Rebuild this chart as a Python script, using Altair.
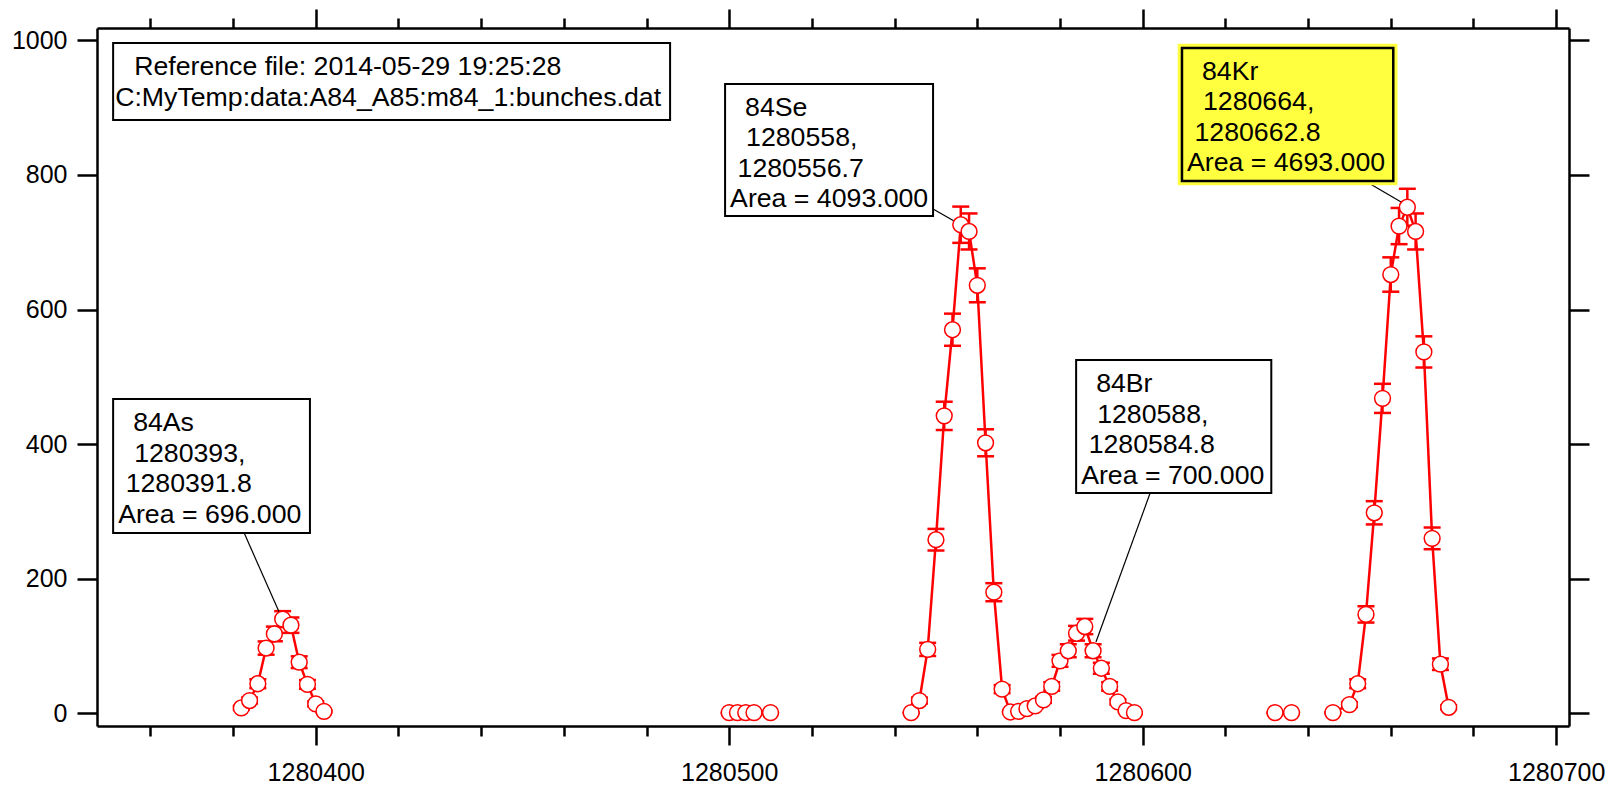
import altair as alt
import numpy as np
import pandas as pd

FONT = "Liberation Sans"
RED = "#ff0000"
YELLOW = "#ffff40"

# ---- counts per bunch; each run is joined by its own line ----
as_x = [1280382, 1280384, 1280386, 1280388, 1280390, 1280392,
        1280394, 1280396, 1280398, 1280400, 1280402]
as_y = [8, 19, 44, 97, 118, 140, 131, 76, 43, 14, 3]

bg1_x = [1280500, 1280502, 1280504, 1280506, 1280510]
bg1_y = [1, 1, 1, 1, 1]

sebr_x = [1280544, 1280546, 1280548, 1280550, 1280552, 1280554, 1280556,
          1280558, 1280560, 1280562, 1280564, 1280566, 1280568, 1280570,
          1280572, 1280574, 1280576, 1280578, 1280580, 1280582, 1280584,
          1280586, 1280588, 1280590, 1280592, 1280594, 1280596, 1280598]
sebr_y = [1, 19, 95, 258, 442, 570, 726,
          716, 636, 402, 180, 36, 2, 3,
          7, 11, 20, 40, 78, 93, 119,
          129, 93, 67, 40, 17, 4, 1]

bg2_x = [1280632, 1280636]
bg2_y = [1, 1]

kr_x = [1280646, 1280650, 1280652, 1280654, 1280656, 1280658, 1280660,
        1280662, 1280664, 1280666, 1280668, 1280670, 1280672, 1280674]
kr_y = [1, 13, 44, 147, 298, 468, 652, 724, 752, 716, 537, 260, 73, 9]

runs = [("As", as_x, as_y), ("bg1", bg1_x, bg1_y), ("SeBr", sebr_x, sebr_y),
        ("bg2", bg2_x, bg2_y), ("Kr", kr_x, kr_y)]
pts = pd.concat(
    [pd.DataFrame({"x": xs_, "y": ys_, "run": name}) for name, xs_, ys_ in runs],
    ignore_index=True,
)
err = np.sqrt(pts["y"].astype(float))  # Poisson error on counts
pts["lo"] = pts["y"] - err
pts["hi"] = pts["y"] + err

# ---- plot geometry ----
W, H = 1472, 698
X_DOM = [1280347.1, 1280703.1]
Y_DOM = [-18.8, 1018.3]
PX_X = W / (X_DOM[1] - X_DOM[0])   # pixels per mass unit
PX_Y = H / (Y_DOM[1] - Y_DOM[0])   # pixels per count

# ---- annotation boxes (anchored in data units) ----
note_lines = [
    ["Reference file: 2014-05-29 19:25:28", "C:MyTemp:data:A84_A85:m84_1:bunches.dat"],
    ["84Se", "1280558,", "1280556.7", "Area = 4093.000"],
    ["84Kr", "1280664,", "1280662.8", "Area = 4693.000"],
    ["84Br", "1280588,", "1280584.8", "Area = 700.000"],
    ["84As", "1280393,", "1280391.8", "Area = 696.000"],
]
note_x0 = [1280351.0, 1280499.0, 1280609.5, 1280583.9, 1280351.0]
note_x1 = [1280485.7, 1280549.3, 1280660.6, 1280631.1, 1280398.6]
note_top = [996.0, 935.1, 988.6, 525.0, 467.0]
note_bottom = [881.6, 738.9, 790.9, 327.3, 267.9]
note_highlight = [False, False, True, False, False]

# text layout inside the boxes (pixels)
FONT_SIZE = 26.7
LINE_H = 30.5
FIRST_BASE = 32
PAD = [2, 5, 5, 5, 5]
INDENT = {2: [19, 0], 4: [15, 16, 7.5, 0]}

notes = pd.DataFrame({
    "x0": note_x0, "x1": note_x1, "ytop": note_top, "ybot": note_bottom,
    "highlight": note_highlight,
})

rows = []
for b, lines in enumerate(note_lines):
    ind = INDENT[len(lines)]
    for i, s in enumerate(lines):
        rows.append({
            "text": s,
            "tx": note_x0[b] + (PAD[b] + ind[i]) / PX_X,
            "ty": note_top[b] - (FIRST_BASE + LINE_H * i) / PX_Y,
        })
note_text = pd.DataFrame(rows)

# leader lines from each box to its peak
lead_from_x = [1280382.7, 1280549.3, 1280653.8, 1280601.8]
lead_from_y = [267.9, 749.3, 790.9, 327.3]
lead_to_x = [1280391.2, 1280556.5, 1280662.7, 1280588.7]
lead_to_y = [150, 724, 759, 106]
leaders = pd.DataFrame({"fx": lead_from_x, "fy": lead_from_y,
                        "tx": lead_to_x, "ty": lead_to_y})

# ---- scales and axes ----
x_ticks = list(range(1280360, 1280701, 20))
y_ticks = [0, 200, 400, 600, 800, 1000]

xs = alt.Scale(domain=X_DOM, nice=False, zero=False)
ys = alt.Scale(domain=Y_DOM, nice=False, zero=False)

major = "datum.value % 100 === 0"
x_tick_size = {"condition": {"test": major, "value": 19}, "value": 10}
common = dict(domainColor="black", domainWidth=2.5, tickColor="black",
              tickWidth=2.5, grid=False, title=None, labelFont=FONT,
              labelFontSize=25, labelColor="black")

x_bottom = alt.Axis(orient="bottom", values=x_ticks, format="d",
                    labelExpr=f"{major} ? datum.label : ''",
                    tickSize=x_tick_size, labelPadding=15, labelFlush=False,
                    labelOverlap=False, **common)
x_top = alt.Axis(orient="top", values=x_ticks, labels=False,
                 tickSize=x_tick_size, **common)
y_left = alt.Axis(orient="left", values=y_ticks, format="d", tickSize=20,
                  labelPadding=10, **common)
y_right = alt.Axis(orient="right", values=y_ticks, labels=False, tickSize=20,
                   **common)

X = alt.X("x:Q", scale=xs, axis=None)
Y = alt.Y("y:Q", scale=ys, axis=None)

base = alt.Chart(pts)

bars = base.mark_rule(color=RED, strokeWidth=2.5).encode(
    x=X, y=alt.Y("lo:Q", scale=ys, axis=None), y2="hi:Q")
caps_lo = base.mark_tick(orient="horizontal", color=RED, size=17,
                         thickness=2.5, opacity=1).encode(
    x=X, y=alt.Y("lo:Q", scale=ys, axis=None))
caps_hi = base.mark_tick(orient="horizontal", color=RED, size=17,
                         thickness=2.5, opacity=1).encode(
    x=X, y=alt.Y("hi:Q", scale=ys, axis=None))
trace = base.mark_line(color=RED, strokeWidth=2.5).encode(
    x=alt.X("x:Q", scale=xs, axis=x_bottom),
    y=alt.Y("y:Q", scale=ys, axis=y_left),
    detail="run:N", order="x:Q")

leader_lines = alt.Chart(leaders).mark_rule(color="black", strokeWidth=1.2).encode(
    x=alt.X("fx:Q", scale=xs, axis=None), y=alt.Y("fy:Q", scale=ys, axis=None),
    x2="tx:Q", y2="ty:Q")

markers = base.mark_point(shape="circle", filled=True, fill="white",
                          stroke=RED, strokeWidth=1.5, size=250,
                          opacity=1).encode(x=X, y=Y)

box_enc = dict(x=alt.X("x0:Q", scale=xs, axis=None), x2="x1:Q",
               y=alt.Y("ytop:Q", scale=ys, axis=None), y2="ybot:Q")
halo = alt.Chart(notes).transform_filter("datum.highlight").mark_rect(
    fill=YELLOW, stroke=YELLOW, strokeWidth=8.5).encode(**box_enc)
boxes = alt.Chart(notes).mark_rect(stroke="black").encode(
    fill=alt.condition("datum.highlight", alt.value(YELLOW), alt.value("white")),
    strokeWidth=alt.condition("datum.highlight", alt.value(2.5), alt.value(2)),
    **box_enc)
box_text = alt.Chart(note_text).mark_text(
    align="left", baseline="alphabetic", font=FONT, fontSize=FONT_SIZE,
    color="black").encode(
    x=alt.X("tx:Q", scale=xs, axis=None),
    y=alt.Y("ty:Q", scale=ys, axis=None), text="text:N")

# mirrored frame axes on top and right
frame = base.mark_point(opacity=0).encode(
    x=alt.X("x:Q", scale=xs, axis=x_top),
    y=alt.Y("y:Q", scale=ys, axis=y_right))

chart = alt.layer(
    bars, caps_lo, caps_hi, trace, leader_lines, markers,
    halo, boxes, box_text, frame,
).resolve_axis(x="independent", y="independent").properties(
    width=W, height=H,
    autosize=alt.AutoSizeParams(type="none"),
    padding={"left": 97, "top": 28, "right": 43, "bottom": 59},
    background="white",
).configure_view(stroke=None)

chart.save("out.html", embed_options={"renderer": "svg", "actions": False})
